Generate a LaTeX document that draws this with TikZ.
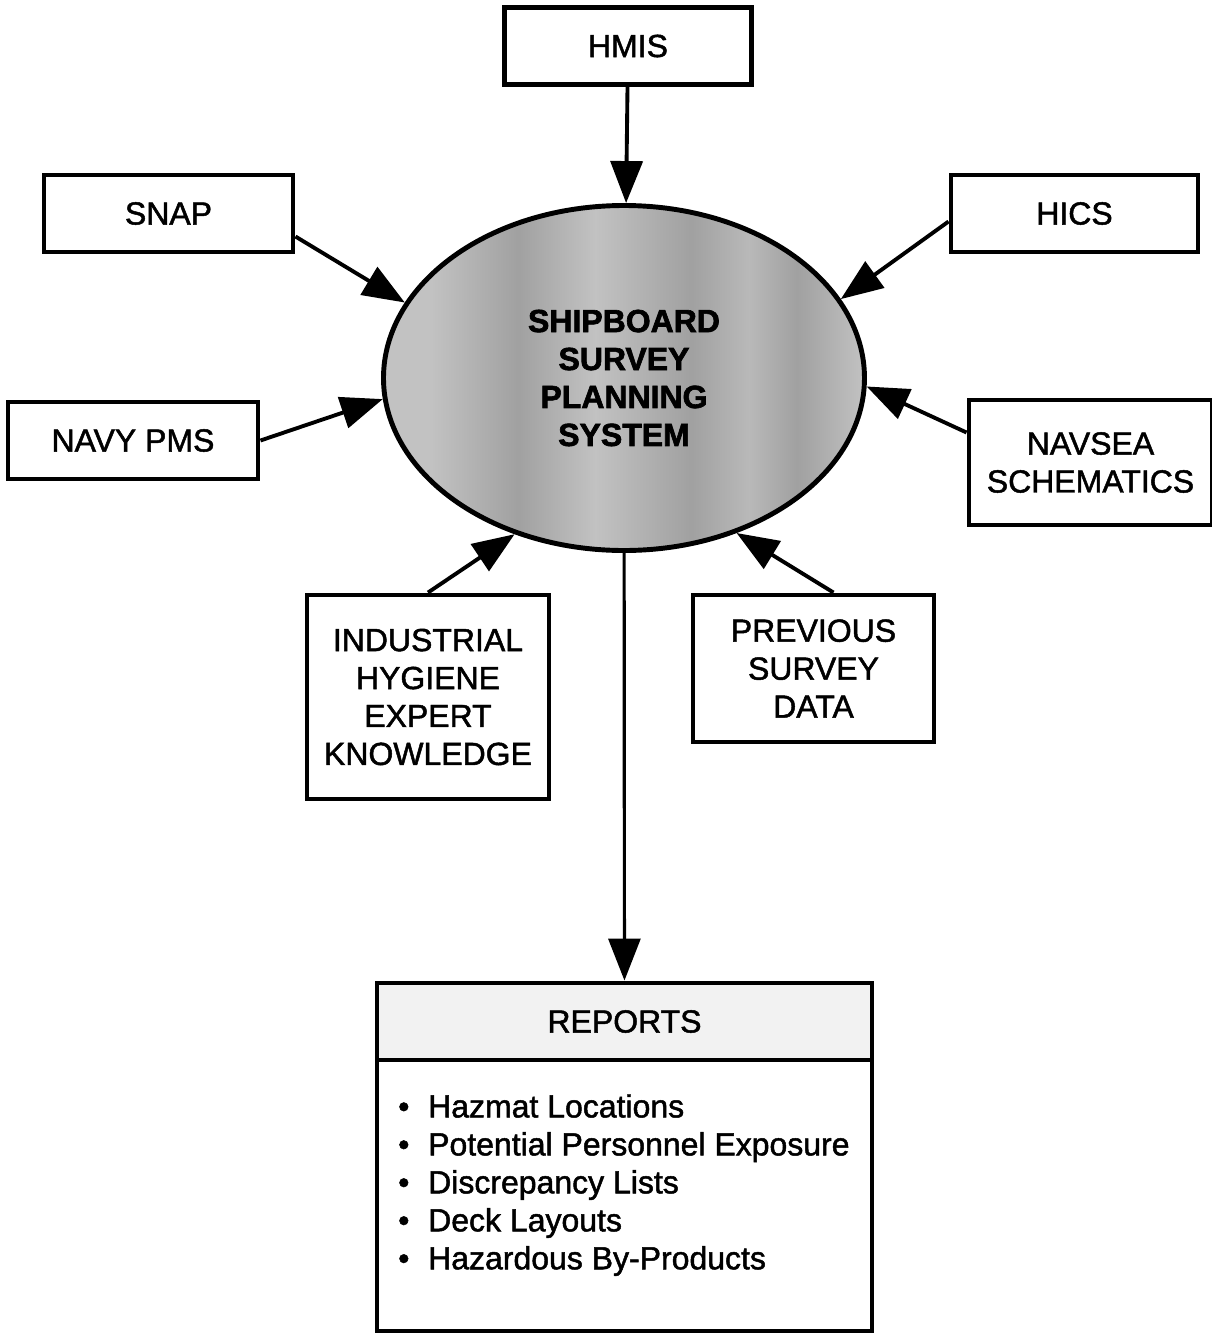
\documentclass[tikz,border=0pt]{standalone}
\usepackage{fontspec}
\setmainfont[FakeBold=1.5]{Liberation Sans}
\newfontfamily\headfont[FakeBold=2]{Liberation Sans Bold}
\usetikzlibrary{shapes.geometric, arrows.meta, positioning}
\pgfdeclarehorizontalshading{sysstreak}{100bp}{color(0bp)=(gray!48); color(30bp)=(gray!48); color(39bp)=(gray!74); color(47bp)=(gray!48); color(57bp)=(gray!74); color(63bp)=(gray!55); color(68bp)=(gray!74); color(75bp)=(gray!48); color(100bp)=(gray!48)}

\begin{document}
\begin{tikzpicture}[font=\fontsize{9.1pt}{10.8pt}\selectfont,
    src/.style={draw, line width=1.4pt, minimum height=0.77cm, align=center, inner sep=2pt},
    feed/.style={-{Triangle[length=0.42cm,width=0.32cm]}, line width=1.1pt}]
            \useasboundingbox (-6.24,3.78) rectangle (5.88,-9.55);
            % planning system in the middle
            \node[ellipse, draw, line width=1.4pt, shading=sysstreak, minimum width=4.81cm, minimum height=3.45cm, align=center, font=\fontsize{9.1pt}{10.8pt}\headfont] (sys) at (0,0) {SHIPBOARD\\SURVEY\\PLANNING\\SYSTEM};
            % sources
            \node[src, minimum width=2.47cm] (hmis) at (0.04,3.32) {HMIS};
            \node[src, minimum width=2.49cm] (snap) at (-4.555,1.645) {SNAP};
            \node[src, minimum width=2.47cm] (hics) at (4.505,1.645) {HICS};
            \node[src, minimum width=2.50cm] (pms) at (-4.91,-0.625) {NAVY PMS};
            \node[src, minimum width=2.43cm, minimum height=1.25cm] (navsea) at (4.665,-0.845) {NAVSEA\\SCHEMATICS};
            \node[src, minimum width=2.42cm, minimum height=2.04cm] (ihek) at (-1.96,-3.19) {INDUSTRIAL\\HYGIENE\\EXPERT\\KNOWLEDGE};
            \node[src, minimum width=2.41cm, minimum height=1.47cm] (prev) at (1.895,-2.905) {PREVIOUS\\SURVEY\\DATA};
            \draw[feed] (hmis) -- (sys);
            \draw[feed] ([yshift=-0.23cm]snap.east) -- (sys.161);
            \draw[feed] ([yshift=-0.08cm]hics.west) -- (sys.20);
            \draw[feed] (pms.east) -- (sys.185);
            \draw[feed] ([yshift=0.3cm]navsea.west) -- (sys.358);
            \draw[feed] (ihek.north) -- (sys.235);
            \draw[feed] ([xshift=0.2cm]prev.north) -- (sys.306);
            % reports
            \node[src, minimum width=4.95cm, fill=gray!10] (rephead) at (0.005,-6.435) {REPORTS};
            \node[draw, line width=1.4pt, minimum width=4.95cm, minimum height=2.71cm, below=-1.4pt of rephead] (repbody) {};
            \node[anchor=north west, align=left, inner sep=0pt] (replist) at ([xshift=0.23cm,yshift=-0.36cm]repbody.north west) {\makebox[0.3cm][l]{\textbullet}Hazmat Locations\\
                \makebox[0.3cm][l]{\textbullet}Potential Personnel Exposure\\
                \makebox[0.3cm][l]{\textbullet}Discrepancy Lists\\
                \makebox[0.3cm][l]{\textbullet}Deck Layouts\\
                \makebox[0.3cm][l]{\textbullet}Hazardous By-Products};
            \draw[feed, line width=0.9pt] (sys) -- (rephead);
        \end{tikzpicture}
\end{document}
